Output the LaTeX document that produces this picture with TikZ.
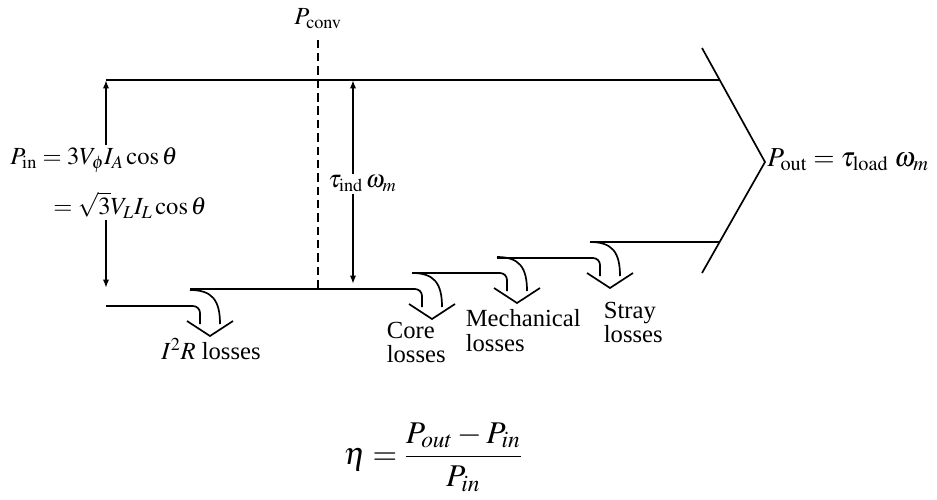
\documentclass[tikz,border=0pt]{standalone}
\usepackage{mathptmx}
\usepackage{fontspec}
\setmainfont{Liberation Serif}
\usetikzlibrary{arrows.meta}

\begin{document}
\begin{tikzpicture}[x=0.025cm, y=-0.025cm, line width=1.2pt,
  lbl/.style={font=\fontsize{17.5}{17.5}\selectfont, inner sep=1pt},
  flow/.style={-{Latex[length=6pt,width=4.5pt]}},
  losstxt/.style={lbl, align=left, anchor=north west, inner sep=0pt}]
\useasboundingbox (0,0) rectangle (937,499);
\node[lbl] (pconv) at (318,19) {$P_{\mathrm{conv}}$};
\node[lbl, anchor=west] (pinA) at (8,160) {$P_{\mathrm{in}} = 3V_{\phi}I_A\cos\theta$};
\node[lbl, anchor=west] (pinB) at (51,205) {$= \sqrt{3}V_LI_L\cos\theta$};
\node[lbl, anchor=west] (tind) at (326,184) {$\tau_{\mathrm{ind}}\,\omega_m$};
\node[lbl, anchor=west, font=\fontsize{19.5}{19.5}\selectfont] (pout) at (765,160)
  {$P_{\mathrm{out}} = \tau_{\mathrm{load}}\;\omega_m$};
\node[lbl] (cu) at (211,349) {$I^2R$ losses};
\node[losstxt] (core) at (386,321) {Core\\losses};
\node[losstxt] (mech) at (465,309) {Mechanical\\losses};
\node[losstxt] (stray) at (603,301) {Stray\\losses};
\node[font=\fontsize{22.5}{25}\selectfont] (eff) at (433,457)
  {$\displaystyle \eta = \frac{P_{out}-P_{in}}{P_{in}}$};
\coordinate (intop) at (106,80);
\coordinate (inbot) at (106,288);
\coordinate (indtop) at (353,80);
\coordinate (indbot) at (353,284);
\coordinate (convbot) at (318,290);
% band outline
\draw (intop) -- (720,80);
\draw (702,48) -- (765,162) -- (702,273);
\draw (590,242) -- (720,242);
\foreach \xp/\xs/\yo in {106/190/290, 190/412/273, 412/497/257, 497/590/242} {
  \draw[rounded corners=5pt] (\xp,\yo+16) -- (\xs+10,\yo+16) -- (\xs+10,\yo+34);
  \draw (\xs,\yo) .. controls (\xs+22,\yo) and (\xs+30,\yo+10) .. (\xs+30,\yo+34);
  \draw (\xs-3,\yo+31) -- (\xs+20,\yo+46) -- (\xs+43,\yo+31);
}
\draw[dash pattern=on 6pt off 3.5pt, shorten <=6pt] (pconv.south) -- (convbot);
\draw[flow] (pinA.north -| intop) -- (intop);
\draw[flow] (pinB.south -| inbot) -- (inbot);
\draw[flow] (tind.north -| indtop) -- (indtop);
\draw[flow] (tind.south -| indbot) -- (indbot);
\end{tikzpicture}
\end{document}
